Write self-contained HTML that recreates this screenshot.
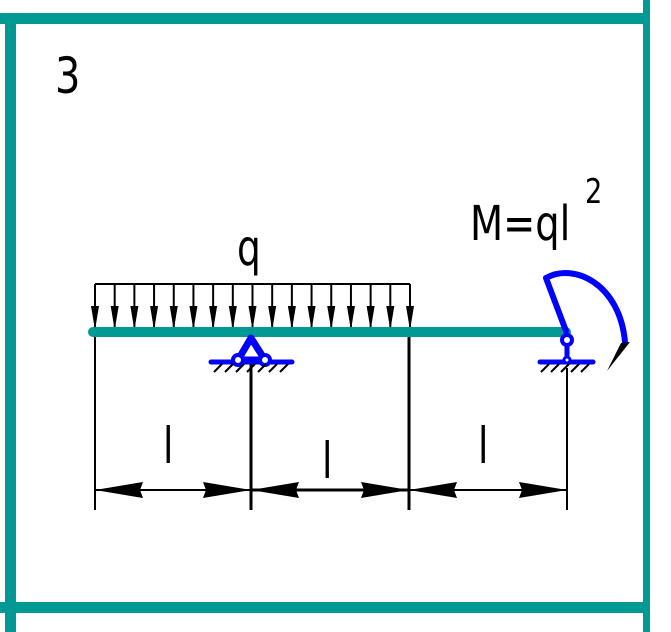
<!DOCTYPE html>
<html><head><meta charset="utf-8"><style>
html,body{margin:0;padding:0;background:#fff;}
svg{display:block;}
text{font-family:"DejaVu Sans","Liberation Sans",sans-serif;fill:#000;font-weight:normal;}
</style></head><body>
<svg width="671" height="632" viewBox="0 0 671 632" xmlns="http://www.w3.org/2000/svg">
<rect x="0" y="13" width="650" height="11" fill="#009994"/>
<rect x="5" y="13" width="11" height="619" fill="#009994"/>
<rect x="643" y="0" width="7" height="632" fill="#009994"/>
<rect x="0" y="602" width="650" height="11" fill="#009994"/>

<text x="55" y="93" font-size="50" transform="scale(0.8,1)" transform-origin="55 93">3</text>
<text x="237" y="265" font-size="50" transform="scale(0.75,1)" transform-origin="237 265">q</text>
<text x="470" y="240" font-size="48" transform="scale(0.8,1)" transform-origin="470 240">M=ql</text>
<text x="585" y="203" font-size="34" transform="scale(0.8,1)" transform-origin="585 203">2</text>

<g stroke="#000" stroke-width="2" fill="none">
<line x1="95" y1="284" x2="410" y2="284"/>
</g>
<g id="arrows"></g>

<g stroke="#000" stroke-width="2">
<line x1="95" y1="337" x2="95" y2="510"/>
<line x1="251" y1="362" x2="251" y2="510" stroke-width="3"/>
<line x1="409" y1="337" x2="409" y2="510" stroke-width="3"/>
<line x1="567" y1="368" x2="567" y2="510"/>
<line x1="95" y1="490" x2="567" y2="490"/>
<line x1="251" y1="490" x2="409" y2="490" stroke-width="3"/>
</g>
<g fill="#000">
<polygon points="95,490 143,482 140,490 143,498"/>
<polygon points="251,490 203,482 206,490 203,498"/>
<polygon points="251,490 299,482 296,490 299,498"/>
<polygon points="409,490 361,482 364,490 361,498"/>
<polygon points="409,490 457,482 454,490 457,498"/>
<polygon points="567,490 519,482 522,490 519,498"/>
</g>
<text x="163" y="463" font-size="50" transform="scale(0.75,1)" transform-origin="163 463">l</text>
<text x="322" y="478" font-size="50" transform="scale(0.75,1)" transform-origin="322 478">l</text>
<text x="478" y="463" font-size="50" transform="scale(0.75,1)" transform-origin="478 463">l</text>

<line x1="93" y1="332" x2="566" y2="332" stroke="#009994" stroke-width="10" stroke-linecap="round"/>

<g stroke="#0000ff" fill="none">
<polygon points="251,338 238,360 265,360" stroke-width="7" stroke-linejoin="round"/>
<line x1="211" y1="362" x2="292" y2="362" stroke-width="5" stroke-linecap="round"/>
<circle cx="238" cy="360" r="5" stroke-width="4" fill="#fff"/>
<circle cx="265" cy="360" r="5" stroke-width="4" fill="#fff"/>
</g>
<g stroke="#000" stroke-width="2">
<line x1="214" y1="372" x2="222" y2="364"/><line x1="225" y1="372" x2="233" y2="364"/>
<line x1="236" y1="372" x2="244" y2="364"/><line x1="247" y1="372" x2="255" y2="364"/>
<line x1="258" y1="372" x2="266" y2="364"/><line x1="269" y1="372" x2="277" y2="364"/>
<line x1="280" y1="372" x2="288" y2="364"/>
</g>

<g stroke="#0000ff" fill="none">
<line x1="567" y1="340" x2="567" y2="360" stroke-width="5"/>
<line x1="540" y1="362" x2="593" y2="362" stroke-width="5" stroke-linecap="round"/>
<circle cx="567" cy="340" r="5" stroke-width="4" fill="#fff"/>
<circle cx="567" cy="360" r="3" stroke-width="3" fill="#fff"/>
</g>
<g stroke="#000" stroke-width="2">
<line x1="541" y1="372" x2="549" y2="364"/><line x1="551" y1="372" x2="559" y2="364"/>
<line x1="561" y1="372" x2="569" y2="364"/><line x1="571" y1="372" x2="579" y2="364"/>
<line x1="581" y1="372" x2="589" y2="364"/>
</g>

<path d="M566,331 L546,278 C575,262 620,285 625,342" stroke="#0000ff" stroke-width="6" fill="none" stroke-linejoin="round" stroke-linecap="round"/>
<polygon points="630,342 607,371 621,343" fill="#000"/>
</svg>
<script>
var g=document.getElementById('arrows'),s='';
for(var i=0;i<17;i++){var x=95+i*(315/16);
s+='<line x1="'+x+'" y1="284" x2="'+x+'" y2="328" stroke="#000" stroke-width="2"/>';
s+='<polygon points="'+(x-4)+',306 '+(x+4)+',306 '+x+',330" fill="#000"/>';}
g.innerHTML=s;
</script>
</body></html>
